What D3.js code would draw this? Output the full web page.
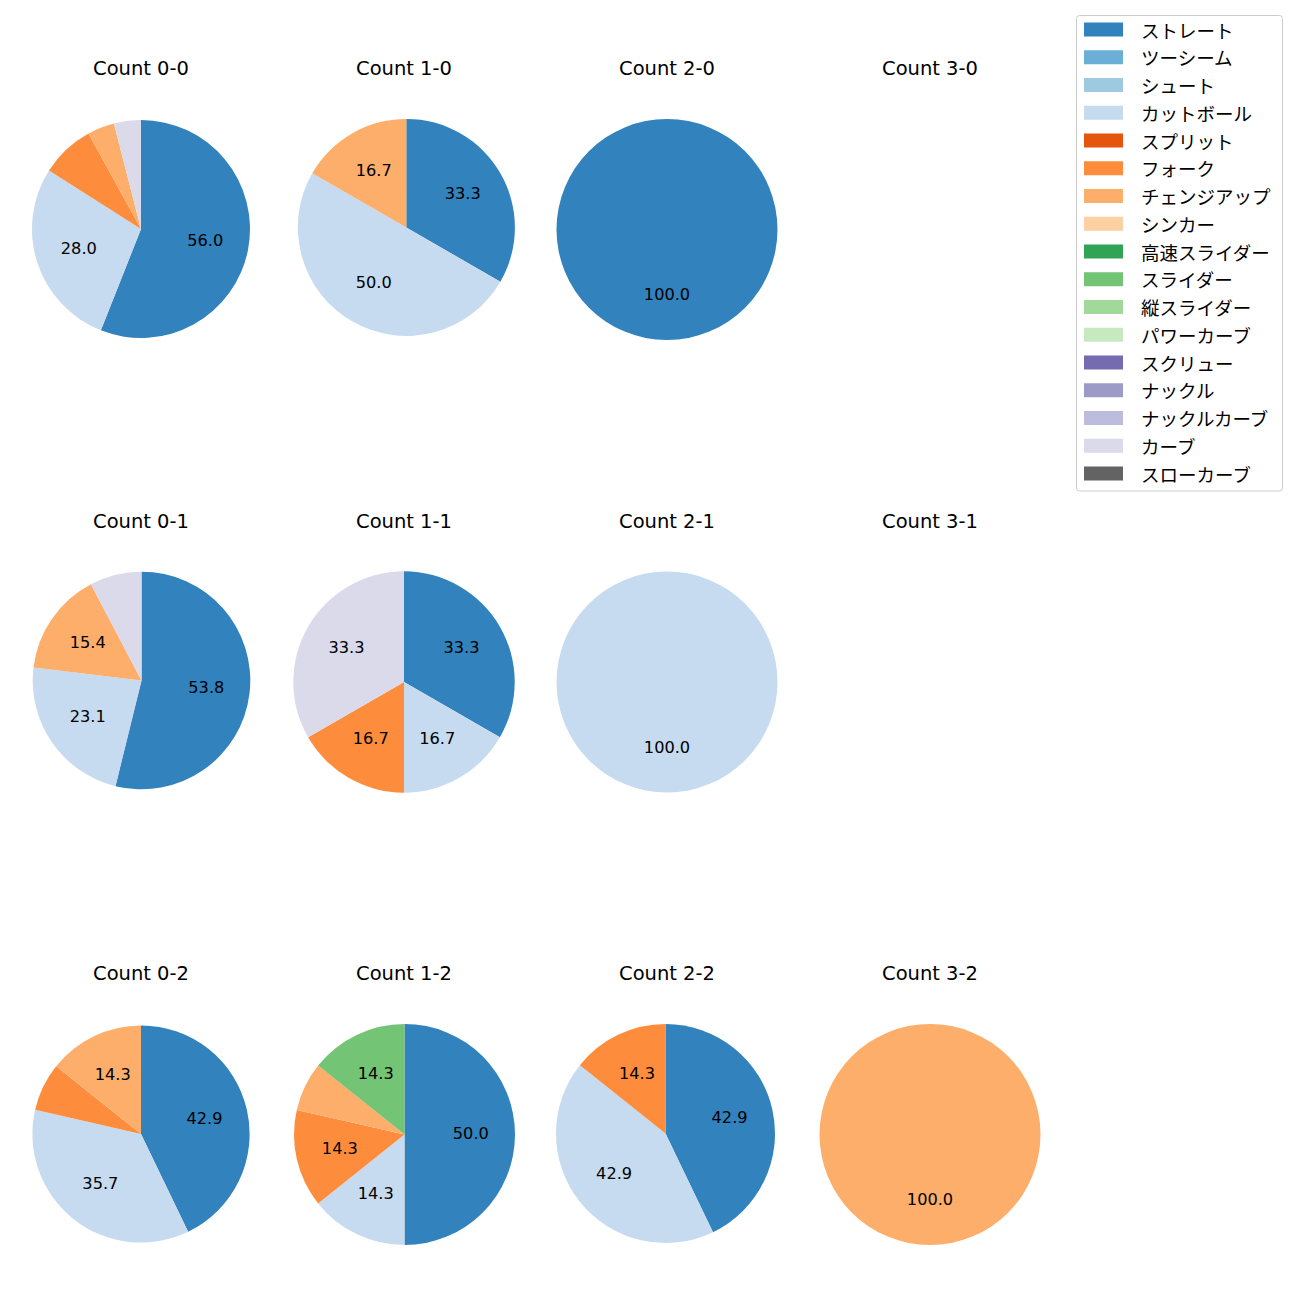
<!DOCTYPE html>
<html>
<head>
<meta charset="utf-8">
<script src="https://cdn.jsdelivr.net/npm/d3@7"></script>
<style>
  html, body { margin: 0; padding: 0; background: #fff; }
  svg { display: block; }
  text { font-family: "DejaVu Sans", "Noto Sans CJK JP", sans-serif; }
  text.jp { font-family: "Noto Sans CJK JP", "DejaVu Sans", sans-serif; }
</style>
</head>
<body>
<svg id="chart" width="1300" height="1300"></svg>
<script>
// Pitch types (legend order)
const pitchTypes = ["ストレート","ツーシーム","シュート","カットボール","スプリット","フォーク","チェンジアップ","シンカー","高速スライダー","スライダー","縦スライダー","パワーカーブ","スクリュー","ナックル","ナックルカーブ","カーブ","スローカーブ"];
const pitchColors = ["#3182bd","#6baed6","#9ecae1","#c6dbef","#e6550d","#fd8d3c","#fdae6b","#fdd0a2","#31a354","#74c476","#a1d99b","#c7e9c0","#756bb1","#9e9ac8","#bcbddc","#dadaeb","#636363"];

// Panel titles, row-major (3 rows x 4 cols)
const panelTitles = ["Count 0-0","Count 1-0","Count 2-0","Count 3-0",
                     "Count 0-1","Count 1-1","Count 2-1","Count 3-1",
                     "Count 0-2","Count 1-2","Count 2-2","Count 3-2"];

// Pitch counts per panel, in pitchTypes order
const count00 = [14,0,0,7,0,2,1,0,0,0,0,0,0,0,0,1,0];
const count10 = [2,0,0,3,0,0,1,0,0,0,0,0,0,0,0,0,0];
const count20 = [1,0,0,0,0,0,0,0,0,0,0,0,0,0,0,0,0];
const count30 = [0,0,0,0,0,0,0,0,0,0,0,0,0,0,0,0,0];
const count01 = [7,0,0,3,0,0,2,0,0,0,0,0,0,0,0,1,0];
const count11 = [2,0,0,1,0,1,0,0,0,0,0,0,0,0,0,2,0];
const count21 = [0,0,0,1,0,0,0,0,0,0,0,0,0,0,0,0,0];
const count31 = [0,0,0,0,0,0,0,0,0,0,0,0,0,0,0,0,0];
const count02 = [6,0,0,5,0,1,2,0,0,0,0,0,0,0,0,0,0];
const count12 = [7,0,0,2,0,2,1,0,0,2,0,0,0,0,0,0,0];
const count22 = [3,0,0,3,0,1,0,0,0,0,0,0,0,0,0,0,0];
const count32 = [0,0,0,0,0,0,1,0,0,0,0,0,0,0,0,0,0];
const panelValues = [count00,count10,count20,count30,count01,count11,count21,count31,count02,count12,count22,count32];

// small per-panel layout adjustments (pie offset within its cell and radius)
const pieAdjust = [[0,-0.5,109],[2.3,-2,108.6],[0,0,110.5],[0,0,110.5],
                   [0.5,-1.5,108.8],[0,0,110.7],[0,0,110.5],[0,0,110.5],
                   [0,-0.5,108.6],[0.5,0,110.5],[-1.5,-1,109.5],[0,0,110.5]];

const svg = d3.select("#chart");
svg.append("rect").attr("width",1300).attr("height",1300).attr("fill","#fff");

const color = d3.scaleOrdinal().domain(pitchTypes).range(pitchColors);
const colX = d3.scalePoint().domain([0,1,2,3]).range([141,930]);
const rowY = d3.scalePoint().domain([0,1,2]).range([229.5,1134.5]);

const pie = d3.pie().sort(null).value(d => d.v);

panelValues.forEach((vals, i) => {
  const col = i % 4, row = Math.floor(i / 4);
  const g = svg.append("g").attr("transform", `translate(${colX(col)},${rowY(row)})`);
  g.append("text").attr("x",0).attr("y",-154.5)
    .attr("text-anchor","middle")
    .attr("font-size",19.5).attr("fill","#000").text(panelTitles[i]);
  const total = d3.sum(vals);
  if (total === 0) return;
  const [dx, dy, R] = pieAdjust[i];
  const arc = d3.arc().innerRadius(0).outerRadius(R);
  const labelArc = d3.arc().innerRadius(R*0.6).outerRadius(R*0.6);
  const pg = g.append("g").attr("transform", `translate(${dx},${dy})`);
  const data = pitchTypes.map((p, k) => ({p, v: vals[k]})).filter(d => d.v > 0);
  const arcs = pie(data);
  pg.selectAll("path.w").data(arcs).enter().append("path")
    .attr("d", arc).attr("fill", d => color(d.data.p));
  pg.selectAll("text.l").data(arcs.filter(d => d.data.v/total*100 > 10)).enter().append("text")
    .attr("transform", d => { const c = labelArc.centroid(d); return `translate(${c[0]},${c[1] + 4.5})`; })
    .attr("text-anchor","middle")
    .attr("font-size",16.2).attr("fill","#000")
    .text(d => (d.data.v/total*100).toFixed(1));
});

// Legend
const lg = svg.append("g");
lg.append("rect").attr("x",1076.5).attr("y",15.5).attr("width",206).attr("height",475.5)
  .attr("rx",3).attr("fill","#fff").attr("stroke","#cccccc").attr("stroke-width",1);
const ly = d3.scalePoint().domain(pitchTypes).range([29.5,473.5]);
pitchTypes.forEach(p => {
  lg.append("rect").attr("x",1084).attr("y",ly(p)-7).attr("width",39).attr("height",14).attr("fill",color(p));
  lg.append("text").attr("class","jp").attr("x",1141).attr("y",ly(p)).attr("dominant-baseline","central")
    .attr("font-size",18.5).attr("fill","#000").text(p);
});
</script>
</body>
</html>
